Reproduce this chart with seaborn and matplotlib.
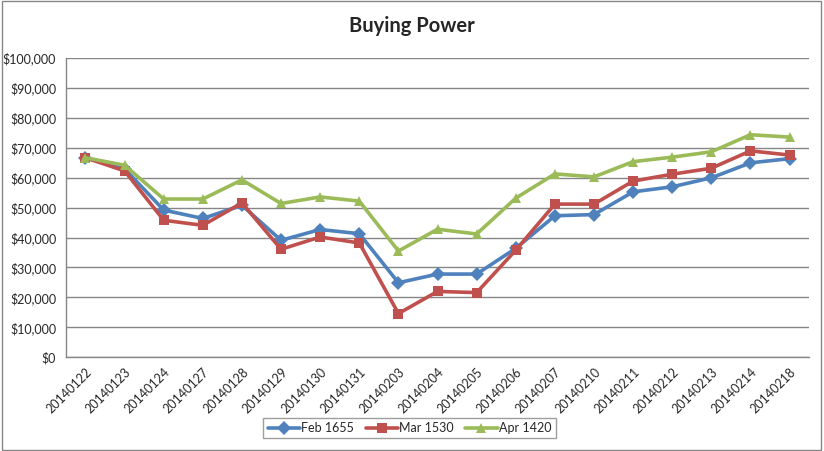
import numpy as np
import pandas as pd
import seaborn as sns
import matplotlib.pyplot as plt
from matplotlib.ticker import FuncFormatter, FixedLocator

# data
dates = ['20140122', '20140123', '20140124', '20140127', '20140128', '20140129',
         '20140130', '20140131', '20140203', '20140204', '20140205', '20140206',
         '20140207', '20140210', '20140211', '20140212', '20140213', '20140214',
         '20140218']
feb_1655 = [66700, 63000, 49200, 46400, 50800, 39100, 42700, 41300, 24900, 27800,
            27800, 36400, 47300, 47700, 55300, 57000, 60000, 65000, 66400]
mar_1530 = [66700, 62300, 45800, 44100, 51600, 36100, 40200, 38200, 14600, 22000,
            21600, 35800, 51200, 51200, 58900, 61200, 63200, 69000, 67600]
apr_1420 = [66700, 64200, 52900, 52900, 59300, 51400, 53600, 52200, 35500, 42800,
            41200, 53200, 61300, 60300, 65400, 66900, 68700, 74400, 73600]
series_names = ['Feb 1655', 'Mar 1530', 'Apr 1420']

df = pd.DataFrame({'date': dates * 3,
                   'value': feb_1655 + mar_1530 + apr_1420,
                   'series': np.repeat(series_names, len(dates))})

sns.set_style('white')
plt.rcParams['font.family'] = ['Lato', 'DejaVu Sans']

fig = plt.figure(figsize=(8.24, 4.51), dpi=100)
ax = fig.add_axes([0.080, 0.208, 0.902, 0.663])

palette = ['#4F81BD', '#C0504D', '#9BBB59']
sns.lineplot(data=df, x='date', y='value', hue='series', style='series',
             palette=palette, markers=['D', 's', '^'], dashes=False,
             markersize=7, linewidth=2.6, markeredgewidth=0, sort=False, ax=ax)

ax.set_xlim(-0.5, len(dates) - 0.5)
ax.set_ylim(0, 100000)
ax.set_yticks(np.arange(0, 100001, 10000))
ax.yaxis.set_major_formatter(FuncFormatter(lambda v, p: '${:,.0f}'.format(v)))
ax.yaxis.grid(True, color='#868686', linewidth=1)
ax.xaxis.grid(False)

# labels at centres, tick marks at category boundaries like Excel
ax.set_xticks(range(len(dates)))
ax.set_xticklabels(dates, rotation=45, ha='right', rotation_mode='anchor')
ax.xaxis.set_minor_locator(FixedLocator(np.arange(-0.5, len(dates), 1)))
ax.tick_params(axis='x', which='major', length=0, pad=6, labelsize=9)
ax.tick_params(axis='x', which='minor', length=5, color='#868686', width=1)
ax.tick_params(axis='y', length=5, color='#868686', width=1, labelsize=9, pad=2)
ax.tick_params(axis='both', direction='out')

for side in ['top', 'right']:
    ax.spines[side].set_visible(False)
for side in ['left', 'bottom']:
    ax.spines[side].set_color('#868686')
    ax.spines[side].set_linewidth(1)

ax.set_xlabel('')
ax.set_ylabel('')
fig.suptitle('Buying Power', y=0.965, fontsize=14.5, fontweight='bold')

handles, labels = ax.get_legend_handles_labels()
ax.get_legend().remove()
leg = fig.legend(handles, labels, loc='center', bbox_to_anchor=(0.497, 0.051),
                 ncol=3, frameon=True, fancybox=False, edgecolor='#868686',
                 fontsize=9, handlelength=2.6, columnspacing=0.9,
                 handletextpad=0.1, borderpad=0.35, borderaxespad=0)
leg.get_frame().set_linewidth(1)

# outer chart border
fig.patches.append(plt.Rectangle((0.002, 0.003), 0.994, 0.994, transform=fig.transFigure,
                                 fill=False, edgecolor='#868686', linewidth=1))

fig.savefig('out.png', dpi=100)
